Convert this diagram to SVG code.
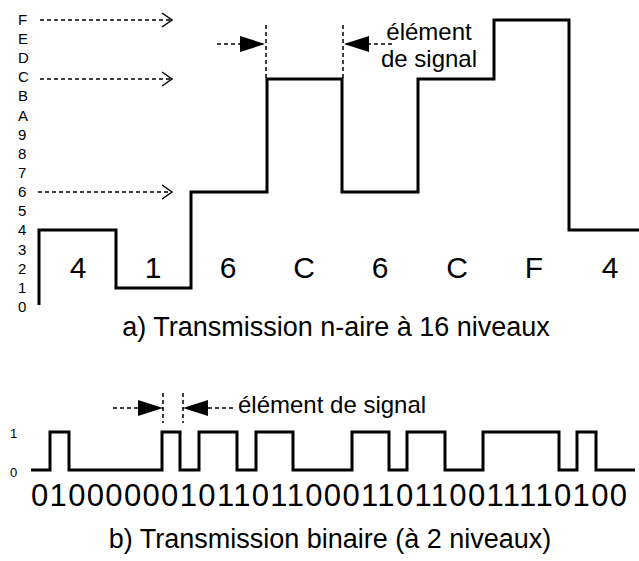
<svg xmlns="http://www.w3.org/2000/svg" width="639" height="561" viewBox="0 0 639 561">
<style>
text{font-family:"Liberation Sans",Arial,sans-serif;fill:#000}
.axis{font-size:15px}
.axis2{font-size:13px}
.sym{font-size:30px;text-anchor:middle}
.lbl{font-size:24px}
.title{font-size:27px;text-anchor:middle}
.sig{fill:none;stroke:#000;stroke-width:3;stroke-linejoin:miter}
.dash{fill:none;stroke:#000;stroke-width:1.5;stroke-dasharray:4,3}
</style>
<defs>
<marker id="open" markerUnits="userSpaceOnUse" markerWidth="14" markerHeight="18" refX="11" refY="8" orient="auto">
<path d="M1,1 L11,8 L1,15" fill="none" stroke="#000" stroke-width="1.5"/>
</marker>
<marker id="solid" markerUnits="userSpaceOnUse" markerWidth="26" markerHeight="18" refX="25" refY="8" orient="auto">
<path d="M0,0 L25,8 L0,16 Z" fill="#000"/>
</marker>
</defs>

<g id="axis-a" class="axis">
<text x="18" y="25">F</text>
<text x="18" y="44">E</text>
<text x="18" y="63">D</text>
<text x="18" y="82">C</text>
<text x="18" y="101">B</text>
<text x="18" y="121">A</text>
<text x="18" y="140">9</text>
<text x="18" y="159">8</text>
<text x="18" y="178">7</text>
<text x="18" y="197">6</text>
<text x="18" y="216">5</text>
<text x="18" y="235">4</text>
<text x="18" y="255">3</text>
<text x="18" y="274">2</text>
<text x="18" y="293">1</text>
<text x="18" y="312">0</text>
</g>

<g id="connectors">
<line class="dash" x1="40" y1="20" x2="172" y2="20" marker-end="url(#open)"/>
<line class="dash" x1="40" y1="79" x2="172" y2="79" marker-end="url(#open)"/>
<line class="dash" x1="38" y1="192" x2="172" y2="192" marker-end="url(#open)"/>
<line class="dash" x1="266" y1="25" x2="266" y2="79"/>
<line class="dash" x1="343" y1="25" x2="343" y2="79"/>
<line class="dash" x1="217" y1="44" x2="265" y2="44" marker-end="url(#solid)"/>
<line class="dash" x1="392" y1="44" x2="344" y2="44" marker-end="url(#solid)"/>
<line class="dash" x1="163" y1="393" x2="163" y2="423"/>
<line class="dash" x1="183" y1="393" x2="183" y2="423"/>
<line class="dash" x1="113" y1="408" x2="163" y2="408" marker-end="url(#solid)"/>
<line class="dash" x1="233" y1="408" x2="183" y2="408" marker-end="url(#solid)"/>
</g>

<g id="signal-a">
<path class="sig" d="M39,305 V230 H116 V288 H191 V192 H267 V79 H342 V192 H418 V79 H494 V20 H569 V230 H640"/>
</g>

<g id="symbols-a" class="sym">
<text x="78" y="278">4</text>
<text x="153" y="278">1</text>
<text x="228" y="278">6</text>
<text x="304" y="278">C</text>
<text x="380" y="278">6</text>
<text x="457" y="278">C</text>
<text x="534" y="278">F</text>
<text x="610" y="278">4</text>
</g>

<g id="label-a" class="lbl">
<text x="429" y="40" text-anchor="middle">élément</text>
<text x="429" y="67" text-anchor="middle">de signal</text>
</g>

<g id="title-a">
<text class="title" x="336" y="336">a) Transmission n-aire à 16 niveaux</text>
</g>

<g id="axis-b" class="axis2">
<text x="10" y="438">1</text>
<text x="10" y="477">0</text>
</g>

<g id="signal-b">
<path class="sig" d="M31,470 H50 V432 H69 V470 H162 V432 H180 V470 H199 V432 H237 V470 H256 V432 H293 V470 H352 V432 H389 V470 H407 V432 H445 V470 H483 V432 H559 V470 H577 V432 H596 V470 H635"/>
</g>

<g id="label-b" class="lbl">
<text x="238" y="413">élément de signal</text>
</g>

<g id="bits-b">
<text x="31" y="506" font-size="31" textLength="596" lengthAdjust="spacing">010000001011011000110110011110100</text>
</g>

<g id="title-b">
<text class="title" x="330" y="548">b) Transmission binaire (à 2 niveaux)</text>
</g>
</svg>
